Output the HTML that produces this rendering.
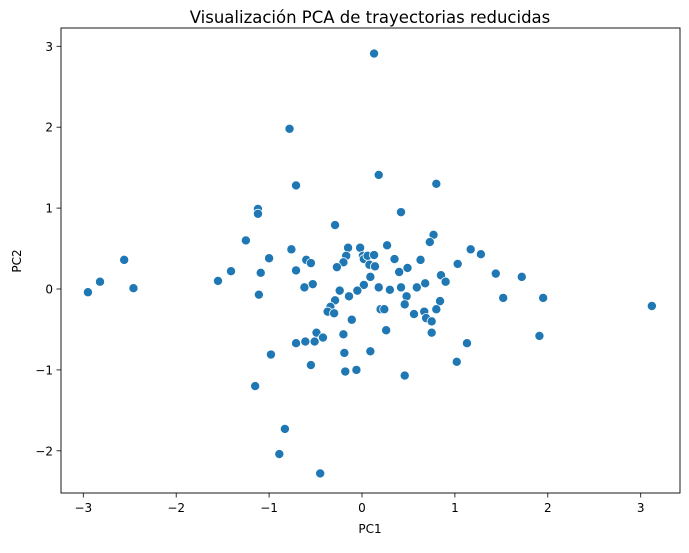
<!DOCTYPE html>
<html><head><meta charset="utf-8"><style>
body{margin:0;background:#fff;font-family:"Liberation Sans","DejaVu Sans",sans-serif}
svg text{font-family:"DejaVu Sans","Liberation Sans",sans-serif;fill:#000}
</style></head><body>
<svg id="chart" width="689" height="548" xmlns="http://www.w3.org/2000/svg">
<text x="370" y="23" text-anchor="middle" font-size="16.5">Visualización PCA de trayectorias reducidas</text>
<rect x="61" y="28" width="619" height="465" fill="none" stroke="#000" stroke-width="0.9"/>
<g id="xticks"></g><g id="yticks"></g><g id="points"></g>
<text x="370" y="533" text-anchor="middle" font-size="12">PC1</text>
<text transform="translate(21,261) rotate(-90)" text-anchor="middle" font-size="12">PC2</text>
</svg>
<script>
const xTicks=[-3,-2,-1,0,1,2,3];
const yTicks=[-2,-1,0,1,2,3];
const pc1=[0.13,-0.78,0.18,-0.71,0.80,-1.12,-1.12,0.42,-0.29,-1.25,0.77,0.73,-0.76,-0.15,-0.02,0.27,1.17,1.28,-1.00,-0.60,-0.55,-0.17,-0.20,0.01,0.02,0.06,0.13,0.35,0.63,1.03,0.08,0.14,-0.27,-0.71,-1.09,0.40,0.49,0.85,0.90,1.44,0.09,-0.53,-0.62,0.02,0.18,0.30,0.42,0.59,0.68,-1.11,-0.24,-0.05,-0.14,0.48,-0.29,0.84,-0.34,0.46,0.20,0.24,0.80,-0.37,-0.30,0.67,0.56,0.69,0.75,-0.11,0.26,0.75,-0.49,-0.42,-0.71,-0.61,-0.51,-0.20,1.13,-0.98,-0.19,0.09,1.02,-0.55,-0.18,-0.06,0.46,-2.56,-2.82,-2.46,-2.95,-1.41,-1.55,1.72,1.52,1.95,3.12,1.91,-1.15,-0.83,-0.89,-0.45];
const pc2=[2.91,1.98,1.41,1.28,1.30,0.99,0.93,0.95,0.79,0.60,0.67,0.58,0.49,0.51,0.51,0.54,0.49,0.43,0.38,0.36,0.32,0.41,0.33,0.41,0.37,0.41,0.42,0.37,0.36,0.31,0.30,0.28,0.27,0.23,0.20,0.21,0.26,0.17,0.09,0.19,0.15,0.06,0.02,0.05,0.02,-0.01,0.02,0.02,0.07,-0.07,-0.02,-0.02,-0.09,-0.09,-0.14,-0.15,-0.22,-0.19,-0.25,-0.25,-0.25,-0.28,-0.30,-0.28,-0.31,-0.36,-0.40,-0.38,-0.51,-0.54,-0.54,-0.60,-0.67,-0.65,-0.65,-0.56,-0.67,-0.81,-0.79,-0.77,-0.90,-0.94,-1.02,-1.00,-1.07,0.36,0.09,0.01,-0.04,0.22,0.10,0.15,-0.11,-0.11,-0.21,-0.58,-1.20,-1.73,-2.04,-2.28];
const NS="http://www.w3.org/2000/svg";
function sx(v){return 362+v*92.9;}
function sy(v){return 289-v*80.9;}
const xt=document.getElementById('xticks'),yt=document.getElementById('yticks'),pg=document.getElementById('points');
xTicks.forEach(t=>{
  const l=document.createElementNS(NS,'line');
  
  
  l.setAttribute('x1',sx(t));l.setAttribute('x2',sx(t));l.setAttribute('y1',493);l.setAttribute('y2',497.5);l.setAttribute('stroke','#000');l.setAttribute('stroke-width','0.8');
  xt.appendChild(l);
  const tx=document.createElementNS(NS,'text');
  
  
  tx.setAttribute('x',sx(t));tx.setAttribute('y',512);tx.setAttribute('text-anchor','middle');tx.setAttribute('font-size','12');
  tx.textContent=t<0?'\u2212'+(-t):String(t);
  xt.appendChild(tx);
});
yTicks.forEach(t=>{
  const l=document.createElementNS(NS,'line');
  
  
  l.setAttribute('x1',56.5);l.setAttribute('x2',61);l.setAttribute('y1',sy(t));l.setAttribute('y2',sy(t));l.setAttribute('stroke','#000');l.setAttribute('stroke-width','0.8');
  yt.appendChild(l);
  const tx=document.createElementNS(NS,'text');
  
  
  tx.setAttribute('x',53);tx.setAttribute('y',sy(t)+4.5);tx.setAttribute('text-anchor','end');tx.setAttribute('font-size','12');
  tx.textContent=t<0?'\u2212'+(-t):String(t);
  yt.appendChild(tx);
});
pc1.forEach((v,i)=>{
  const c=document.createElementNS(NS,'circle');
  
  
  c.setAttribute('cx',sx(v));c.setAttribute('cy',sy(pc2[i]));c.setAttribute('r',4.6);
  c.setAttribute('fill','#1f77b4');c.setAttribute('stroke','#fff');c.setAttribute('stroke-width','0.8');
  pg.appendChild(c);
});
</script>
</body></html>
